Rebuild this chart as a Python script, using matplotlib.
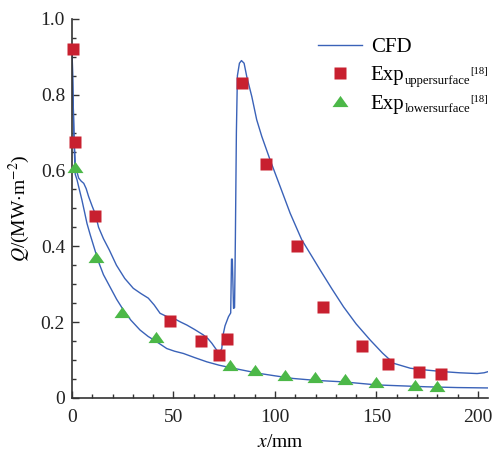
import matplotlib
matplotlib.use("Agg")
import matplotlib.pyplot as plt
from matplotlib.ticker import MultipleLocator, FixedLocator
from matplotlib.font_manager import FontProperties

plt.rcParams['font.family'] = ['Liberation Serif', 'DejaVu Serif']
plt.rcParams['mathtext.fontset'] = 'stix'

# Experimental data (upper surface)
up_x = [0.3, 1.5, 11.3, 48.3, 63.8, 72.2, 76.6, 83.9, 95.5, 111.0, 123.9, 142.7, 155.6, 170.8, 182.0]
up_y = [0.921, 0.674, 0.480, 0.203, 0.149, 0.112, 0.156, 0.831, 0.617, 0.400, 0.239, 0.136, 0.088, 0.067, 0.064]

# Experimental data (lower surface)
lo_x = [1.5, 11.8, 24.5, 41.3, 77.9, 90.2, 105.0, 119.8, 134.6, 149.9, 169.0, 179.8]
lo_y = [0.610, 0.372, 0.227, 0.161, 0.086, 0.073, 0.060, 0.054, 0.049, 0.041, 0.034, 0.031]

# CFD upper surface
cfd_up_x = [0.0, 0.5, 1.0, 1.6, 2.5, 3.3, 4.5, 5.8, 7.0, 8.2, 10.0, 11.5, 13.1, 15.5, 18.4, 21.9,
            26.0, 30.2, 34.0, 37.6, 40.5, 43.4, 46.5, 50.0, 53.5, 56.6, 60.5, 64.7, 67.0, 68.9, 71.0, 72.5,
            73.8, 74.6, 75.4, 77.1, 78.2, 78.6, 79.0, 79.6, 80.1, 80.5, 81.0, 81.5, 82.5, 83.5, 84.8, 86.1,
            88.6, 91.0, 93.5, 97.6, 102.6, 107.5, 113.2, 118.0, 122.3, 128.0, 133.8, 140.0, 147.0, 153.0,
            158.5, 166.7, 175.0, 183.1, 191.0, 199.6, 203.0, 205.0]
cfd_up_y = [0.930, 0.800, 0.690, 0.620, 0.595, 0.580, 0.572, 0.566, 0.552, 0.531, 0.505, 0.485, 0.450, 0.420, 0.390, 0.350,
            0.315, 0.289, 0.275, 0.263, 0.245, 0.223, 0.215, 0.210, 0.200, 0.192, 0.180, 0.166, 0.156, 0.144, 0.128, 0.118,
            0.130, 0.170, 0.190, 0.214, 0.224, 0.366, 0.366, 0.236, 0.238, 0.420, 0.700, 0.850, 0.883, 0.890, 0.883, 0.848,
            0.795, 0.734, 0.690, 0.628, 0.557, 0.487, 0.417, 0.375, 0.337, 0.288, 0.240, 0.195, 0.152, 0.118,
            0.091, 0.078, 0.073, 0.069, 0.066, 0.064, 0.066, 0.069]

# CFD lower surface
cfd_lo_x = [0.0, 0.5, 1.0, 1.6, 2.5, 3.3, 4.9, 6.2, 7.4, 9.0, 11.0, 13.0, 15.5, 18.7, 22.0, 25.3, 29.0,
            33.5, 37.5, 41.7, 46.7, 50.5, 54.9, 60.5, 66.4, 72.5, 79.5, 86.0, 92.7, 100.0, 109.0, 120.0,
            133.8, 150.2, 160.0, 174.9, 190.0, 205.0]
cfd_lo_y = [0.930, 0.800, 0.680, 0.590, 0.575, 0.557, 0.522, 0.490, 0.460, 0.430, 0.395, 0.360, 0.325, 0.293, 0.260, 0.232, 0.205,
            0.179, 0.162, 0.148, 0.130, 0.123, 0.117, 0.106, 0.095, 0.086, 0.078, 0.071, 0.064, 0.058, 0.051, 0.046,
            0.042, 0.034, 0.032, 0.029, 0.027, 0.026]

legend_main = ['CFD', 'Exp', 'Exp']
legend_sub = ['', 'uppersurface', 'lowersurface']
legend_sup = ['', '[18]', '[18]']

fig = plt.figure(figsize=(4.93, 4.5), dpi=100)
ax = fig.add_axes([0.146, 0.116, 0.844, 0.842])

blue = '#3a62b8'
red = '#c8202f'
green = '#4cb848'
tri = [(0, 0.7), (-1, -0.7), (1, -0.7), (0, 0.7)]

l1, = ax.plot(cfd_up_x, cfd_up_y, color=blue, lw=1.0, zorder=2)
ax.plot(cfd_lo_x, cfd_lo_y, color=blue, lw=1.0, zorder=2)
l2, = ax.plot(up_x, up_y, 's', color=red, ms=9.2, mec='none', clip_on=False, zorder=3)
l3, = ax.plot(lo_x, lo_y, marker=tri, ls='none', color=green, ms=11.5, mec='none', clip_on=False, zorder=3)

ax.set_xlim(0, 205)
ax.set_ylim(0, 1.0)
ax.xaxis.set_major_locator(FixedLocator([0, 50, 100, 150, 200]))
ax.xaxis.set_minor_locator(MultipleLocator(10))
ax.yaxis.set_major_locator(FixedLocator([0, 0.2, 0.4, 0.6, 0.8, 1.0]))
ax.yaxis.set_minor_locator(MultipleLocator(0.05))
ax.set_xticklabels(['0', '50', '100', '150', '200'])
ax.set_yticklabels(['0', '0.2', '0.4', '0.6', '0.8', '1.0'])

for s in ['top', 'right']:
    ax.spines[s].set_visible(False)
for s in ['left', 'bottom']:
    ax.spines[s].set_linewidth(1.2)
    ax.spines[s].set_color('#333333')

ax.tick_params(which='major', direction='in', length=5, width=1.0, labelsize=14, colors='#333333')
ax.tick_params(axis='x', which='major', pad=8)
ax.tick_params(axis='y', which='major', pad=5)
ax.tick_params(which='minor', direction='in', length=3, width=1.0, colors='#333333')
ax.tick_params(labelcolor='#222222')

ax.set_xlabel(r'$x$/mm', fontsize=14, labelpad=6)
ax.set_ylabel(r'$Q$/(MW$\cdot$m$^{-2}$)', fontsize=14, labelpad=6)

leg_fs = 15
leg = fig.legend([l1, l2, l3], legend_main, loc='upper left',
                 bbox_to_anchor=(0.645, 0.917), frameon=False, fontsize=leg_fs,
                 handlelength=2.1, handletextpad=0.43, labelspacing=0.42,
                 borderaxespad=0, borderpad=0)

fig.canvas.draw()
renderer = fig.canvas.get_renderer()
W, H = fig.bbox.width, fig.bbox.height
sub_fp = FontProperties(family='Liberation Serif', size=9.1)
sup_fp = FontProperties(family='Liberation Serif', size=7.7)
for t, sub, sup in zip(leg.get_texts(), legend_sub, legend_sup):
    if not sub:
        continue
    bb = t.get_window_extent(renderer)
    _, _, d = renderer.get_text_width_height_descent(t.get_text(), t.get_fontproperties(), ismath=False)
    base = bb.y0 + d
    xs = bb.x1 + 0.3
    ts = fig.text(xs / W, (base - 3.5) / H, sub, fontproperties=sub_fp, va='baseline', ha='left')
    sw = ts.get_window_extent(renderer).width
    fig.text((xs + sw + 0.3) / W, (base + 6.5) / H, sup, fontproperties=sup_fp, va='baseline', ha='left')

fig.savefig('out.png', dpi=100)
